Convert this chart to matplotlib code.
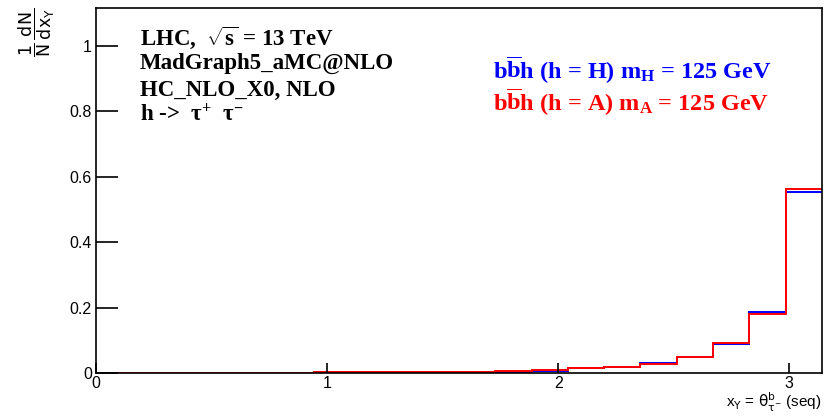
import numpy as np
import matplotlib
matplotlib.use('Agg')
import matplotlib.pyplot as plt

# angular distribution, 20 bins over [0, pi], normalised to unit sum
edges = np.linspace(0, np.pi, 21)
frac_H = [0.0004, 0.0005, 0.0005, 0.0006, 0.0007, 0.0010, 0.0018, 0.0020, 0.0028, 0.0035,
          0.0040, 0.0040, 0.0060, 0.0140, 0.0170, 0.0300, 0.0500, 0.0880, 0.1870, 0.5530]
frac_A = [0.0004, 0.0005, 0.0005, 0.0006, 0.0007, 0.0012, 0.0020, 0.0022, 0.0030, 0.0040,
          0.0045, 0.0055, 0.0090, 0.0140, 0.0170, 0.0280, 0.0480, 0.0910, 0.1790, 0.5630]

header = ["LHC,  $\\sqrt{s}$ = 13 TeV",
          "MadGraph5_aMC@NLO",
          "HC_NLO_X0, NLO",
          "h ->  τ$^{+}$  τ$^{-}$"]
label_H = "b$\\overline{\\mathrm{b}}$h (h = H) m$_{\\mathrm{H}}$ = 125 GeV"
label_A = "b$\\overline{\\mathrm{b}}$h (h = A) m$_{\\mathrm{A}}$ = 125 GeV"

plt.rcParams['mathtext.fontset'] = 'custom'
plt.rcParams['mathtext.rm'] = 'Liberation Serif:bold'
plt.rcParams['mathtext.it'] = 'Liberation Serif:bold'
plt.rcParams['mathtext.bf'] = 'Liberation Serif:bold'

fig = plt.figure(figsize=(8.24, 4.17), dpi=100)
ax = fig.add_axes([0.1165, 0.1055, 0.881, 0.8755])

ax.stairs(frac_H, edges, color='blue', linewidth=1.4, baseline=None)
ax.stairs(frac_A, edges, color='red', linewidth=1.4, baseline=None)

ax.set_xlim(0, np.pi)
ax.set_ylim(0, 1.115)
ax.set_xticks([0, 1, 2, 3])
ax.set_yticks([0, 0.2, 0.4, 0.6, 0.8, 1.0])
ax.set_yticklabels(['0', '0.2', '0.4', '0.6', '0.8', '1'])
ax.tick_params(axis='x', direction='in', length=7.5, width=1.2, pad=2)
ax.tick_params(axis='y', direction='in', length=16, width=1.2, pad=3)
for lab in ax.get_xticklabels() + ax.get_yticklabels():
    lab.set_fontfamily('Liberation Sans')
    lab.set_fontsize(11.5)
for sp in ax.spines.values():
    sp.set_linewidth(1.2)

fig.text(0.045, 0.982, r"$\dfrac{\mathrm{1}}{\mathrm{N}}\,\dfrac{\mathrm{dN}}{\mathrm{dx_{Y}}}$",
         rotation=90, ha='center', va='top', fontsize=12.5, family='Liberation Sans',
         math_fontfamily='dejavusans')
fig.text(0.997, 0.022, r"x$_{\mathrm{Y}}$ = $\mathrm{\theta}^{\mathrm{b}}_{\mathrm{\tau}^{-}}$ (seq)",
         ha='right', va='baseline', fontsize=11, family='Liberation Sans',
         math_fontfamily='dejavusans')

baselines = [0.892, 0.834, 0.770, 0.710]
for line, yb in zip(header, baselines):
    fig.text(0.170, yb, line, ha='left', va='baseline',
             fontsize=16.5, family='Liberation Serif', weight='bold')

fig.text(0.598, 0.813, label_H, color='blue', ha='left', va='baseline',
         fontsize=17.5, family='Liberation Serif', weight='bold')
fig.text(0.598, 0.736, label_A, color='red', ha='left', va='baseline',
         fontsize=17.5, family='Liberation Serif', weight='bold')

fig.savefig('out.png', dpi=100)
